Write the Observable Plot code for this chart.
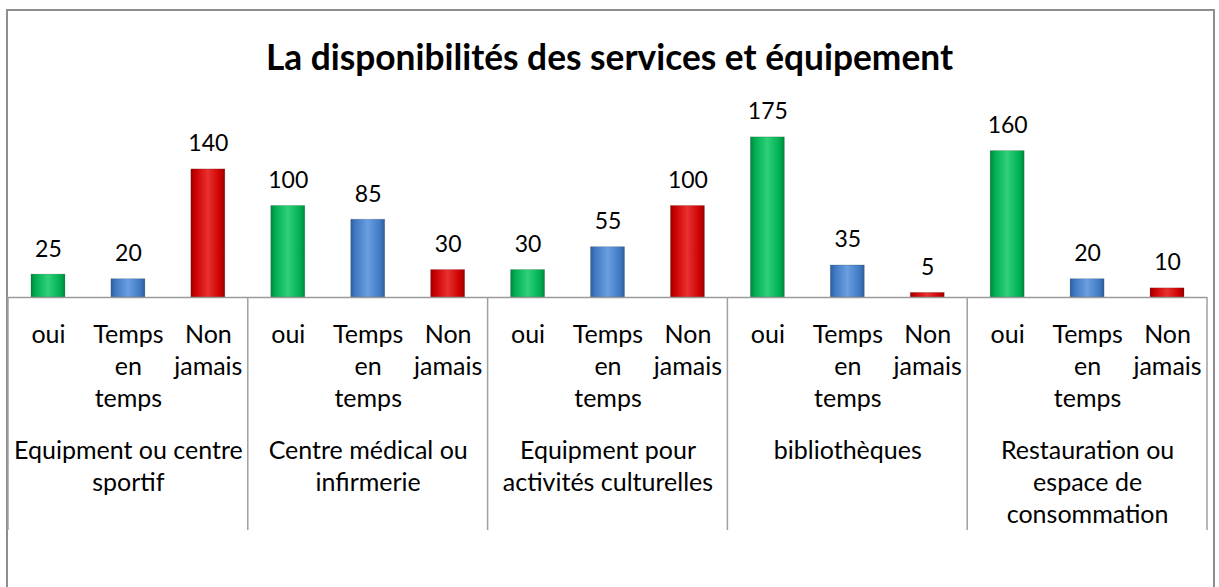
<!DOCTYPE html>
<html>
<head>
<meta charset="utf-8">
<script src="https://cdn.jsdelivr.net/npm/d3@7"></script>
<script src="https://cdn.jsdelivr.net/npm/@observablehq/plot@0.6"></script>
<style>
  html, body { margin: 0; padding: 0; background: #fff; overflow: hidden; }
  body { width: 1219px; height: 587px; position: relative; font-family: Lato, "Open Sans", sans-serif; }
  #frame { position: absolute; left: 6px; top: 9px; width: 1209px; height: 600px; border: 2px solid #8e8e8e; border-bottom: none; box-sizing: border-box; }
  #title { position: absolute; left: 0; width: 1219px; top: 35px; text-align: center; font-family: Lato, sans-serif; font-weight: bold; font-size: 35.3px; color: #000; }
  #chart { position: absolute; left: 0; top: 0; }
</style>
</head>
<body>
<div id="frame"></div>
<div id="title">La disponibilités des services et équipement</div>
<div id="chart"></div>
<script>
// ---- data ----
const groups = ["Equipment ou centre sportif", "Centre médical ou infirmerie", "Equipment pour activités culturelles", "bibliothèques", "Restauration ou espace de consommation"];
const groupLabels = ["Equipment ou centre\nsportif", "Centre médical ou\ninfirmerie", "Equipment pour\nactivités culturelles", "bibliothèques", "Restauration ou\nespace de\nconsommation"];
const responses = ["oui", "Temps en temps", "Non jamais"];
const responseLabels = ["oui", "Temps\nen\ntemps", "Non\njamais"];
const oui = [25, 100, 30, 175, 160];
const tempsEnTemps = [20, 85, 55, 35, 20];
const nonJamais = [140, 30, 100, 5, 10];
const series = [oui, tempsEnTemps, nonJamais];

const data = [];
groups.forEach((g, gi) => responses.forEach((r, ri) => data.push({group: g, response: r, value: series[ri][gi]})));

const gradIds = ["url(#gGreen)", "url(#gBlue)", "url(#gRed)"];

const plot = Plot.plot({
  width: 1219,
  height: 587,
  marginLeft: 8,
  marginRight: 12,
  marginTop: 114,
  marginBottom: 290,
  style: {fontFamily: "Lato, sans-serif", fontSize: "24px", color: "#000", background: "transparent", overflow: "visible"},
  fx: {domain: groups, padding: 0, round: false, label: null},
  x: {domain: responses, paddingInner: 0.575, paddingOuter: 0.2875, round: false, label: null},
  y: {domain: [0, 200], axis: null},
  color: {domain: responses, range: gradIds},
  marks: [
    Plot.barY(data, {fx: "group", x: "response", y: "value", fill: "response", stroke: "#00000030", strokeWidth: 0.8}),
    Plot.ruleY([0], {stroke: "#9a9a9a", strokeWidth: 1.5}),
    Plot.text(data, {fx: "group", x: "response", y: "value", text: d => String(d.value), dy: -18, lineAnchor: "bottom", fontSize: 23, fill: "#000"}),
    Plot.axisX({anchor: "bottom", tickSize: 0, tickPadding: 23, fontSize: 25, lineHeight: 1.28, tickFormat: r => responseLabels[responses.indexOf(r)], fill: "#000"}),
    Plot.axisFx({anchor: "bottom", tickSize: 0, tickPadding: 139, fontSize: 25, lineHeight: 1.28, tickFormat: g => groupLabels[groups.indexOf(g)], label: null, fill: "#000"})
  ]
});

document.getElementById("chart").appendChild(plot);

// gradients for bevelled bars
const svg = d3.select(plot);
const defs = svg.insert("defs", ":first-child");
const grads = [
  {id: "gGreen", edge: "#00873c", base: "#00b050", light: "#2fd07a"},
  {id: "gBlue", edge: "#2d5f9c", base: "#3f7ac2", light: "#6a9fe0"},
  {id: "gRed", edge: "#9a0000", base: "#cc0000", light: "#e83030"}
];
grads.forEach(g => {
  const lg = defs.append("linearGradient").attr("id", g.id).attr("x1", 0).attr("x2", 1).attr("y1", 0).attr("y2", 0);
  lg.append("stop").attr("offset", "0%").attr("stop-color", g.edge);
  lg.append("stop").attr("offset", "14%").attr("stop-color", g.base);
  lg.append("stop").attr("offset", "50%").attr("stop-color", g.light);
  lg.append("stop").attr("offset", "86%").attr("stop-color", g.base);
  lg.append("stop").attr("offset", "100%").attr("stop-color", g.edge);
});

// category divider lines below the axis, from the fx scale
const fx = plot.scale("fx");
const y = plot.scale("y");
const y0 = y.apply(0);
const edges = groups.map(g => fx.apply(g)).concat([fx.apply(groups[groups.length - 1]) + fx.bandwidth]);
svg.append("g").selectAll("line").data(edges).join("line")
  .attr("x1", d => d).attr("x2", d => d)
  .attr("y1", y0).attr("y2", y0 + 233)
  .attr("stroke", "#a0a0a0").attr("stroke-width", 1.5);
</script>
</body>
</html>
